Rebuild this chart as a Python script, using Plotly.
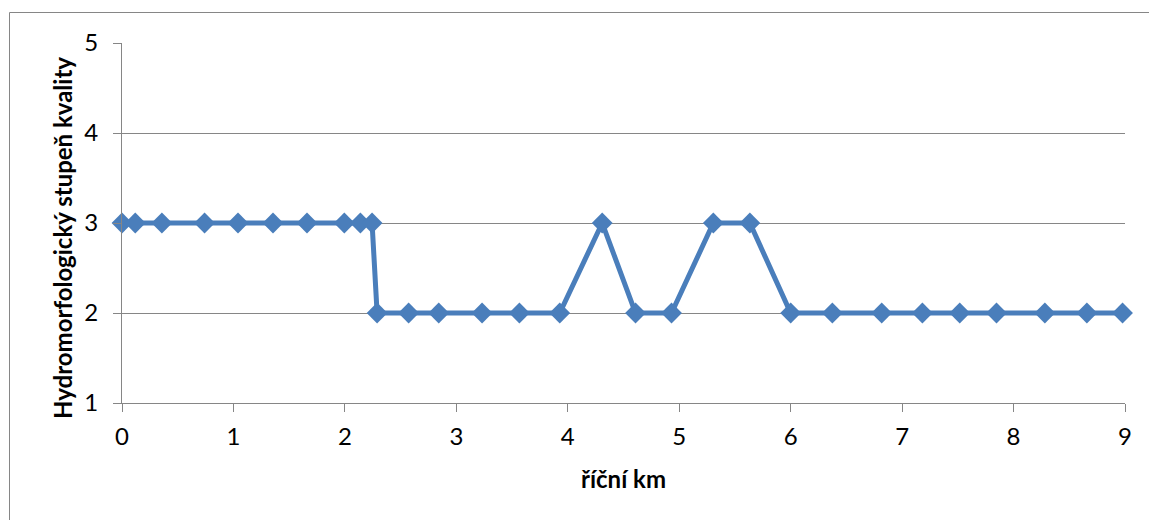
import plotly.graph_objects as go

km = [0, 0.119, 0.358, 0.741, 1.041, 1.355, 1.660, 1.995, 2.139, 2.244,
      2.289, 2.572, 2.842, 3.231, 3.566, 3.928, 4.309, 4.608, 4.931, 5.306,
      5.634, 6.0, 6.374, 6.817, 7.182, 7.517, 7.847, 8.281, 8.658, 8.978]
stupen = [3, 3, 3, 3, 3, 3, 3, 3, 3, 3,
          2, 2, 2, 2, 2, 2, 3, 2, 2, 3,
          3, 2, 2, 2, 2, 2, 2, 2, 2, 2]

x_title = "říční km"
y_title = "Hydromorfologický stupeň kvality"

FONT = "Lato"
GRID = "#868686"
BLUE = "#4A7EBB"

fig = go.Figure()
fig.add_trace(go.Scatter(
    x=km, y=stupen, mode="lines+markers",
    line=dict(color=BLUE, width=5),
    marker=dict(symbol="diamond", size=16, color=BLUE),
    showlegend=False, cliponaxis=False,
))

L, R, T, B = 122, 24, 43, 117
W, H = 1149, 520
pw, ph = W - L - R, H - T - B

fig.update_layout(
    width=W, height=H,
    margin=dict(l=L, r=R, t=T, b=B),
    paper_bgcolor="white", plot_bgcolor="white",
    font=dict(family=FONT, size=24, color="black"),
    xaxis=dict(
        range=[0, 9], dtick=1, tick0=0,
        showgrid=False, zeroline=False,
        showline=True, linecolor=GRID, linewidth=1,
        ticks="outside", ticklen=8, tickcolor=GRID,
        tickfont=dict(family=FONT, size=24, color="black"),
        ticklabelstandoff=4,
        title=dict(text="<b>" + x_title + "</b>", font=dict(family=FONT, size=24), standoff=22),
    ),
    yaxis=dict(
        range=[1, 5], dtick=1, tick0=1,
        showgrid=True, gridcolor=GRID, gridwidth=1,
        zeroline=False,
        showline=True, linecolor=GRID, linewidth=1,
        ticks="outside", ticklen=8, tickcolor=GRID,
        tickfont=dict(family=FONT, size=24, color="black"),
        ticklabelstandoff=10,
    ),
    annotations=[dict(
        text="<b>" + y_title + "</b>", textangle=-90,
        xref="paper", yref="paper",
        x=(62 - L) / pw, y=(H - B - 238) / ph,
        xanchor="center", yanchor="middle", showarrow=False,
        font=dict(family=FONT, size=24, color="black"),
    )],
    shapes=[dict(
        type="rect", xref="paper", yref="paper",
        x0=(9.5 - L) / pw, x1=(1170 - L) / pw,
        y0=(H - B - 540) / ph, y1=1 + (T - 12.5) / ph,
        line=dict(color=GRID, width=1), fillcolor="rgba(0,0,0,0)", layer="below",
    )],
)

fig.write_html("out.html")
